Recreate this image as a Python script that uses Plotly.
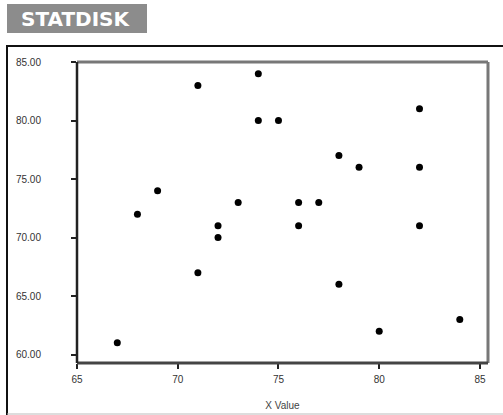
import plotly.graph_objects as go

x_vals = [67, 68, 69, 71, 71, 72, 72, 73, 74, 74, 75, 76, 76, 77, 78, 78, 79, 80, 82, 82, 82, 84]
y_vals = [61, 72, 74, 83, 67, 71, 70, 73, 84, 80, 80, 73, 71, 73, 77, 66, 76, 62, 81, 76, 71, 63]
x_ticks = [65, 70, 75, 80, 85]
y_ticks = [60, 65, 70, 75, 80, 85]
y_tick_labels = ["60.00", "65.00", "70.00", "75.00", "80.00", "85.00"]

PW, PH = 411, 301  # plot area size in px (for paper-relative decorations)

def px_x(p):
    return (p - 77) / PW

def px_y(p):
    return (363 - p) / PH

fig = go.Figure()
fig.add_trace(go.Scatter(
    x=x_vals, y=y_vals, mode="markers",
    marker=dict(color="black", size=7, line=dict(width=0)),
    showlegend=False, hoverinfo="skip"))

fig.update_layout(
    width=503, height=415,
    margin=dict(l=77, r=15, t=62, b=52),
    paper_bgcolor="white", plot_bgcolor="white",
    font=dict(family="Liberation Sans, Arial, sans-serif", size=10, color="#333"),
    xaxis=dict(range=[65, 85.4], tickvals=x_ticks, ticktext=[str(v) for v in x_ticks],
               showgrid=False, zeroline=False, showline=False, automargin=False,
               ticks="outside", ticklen=5, tickwidth=2, tickcolor="#222",
               ticklabelstandoff=2,
               title=dict(text="X Value", font=dict(size=10, color="#444"), standoff=17)),
    yaxis=dict(range=[59.28, 85], tickvals=y_ticks, ticktext=y_tick_labels,
               showgrid=False, zeroline=False, showline=False, automargin=False,
               ticks="outside", ticklen=5, tickwidth=2, tickcolor="#222",
               ticklabelstandoff=28),
    shapes=[
        # outer frame: top, left (black), bottom (light gray)
        dict(type="line", xref="paper", yref="paper", x0=px_x(6), x1=px_x(503),
             y0=px_y(46), y1=px_y(46), line=dict(color="#111", width=2)),
        dict(type="line", xref="paper", yref="paper", x0=px_x(7), x1=px_x(7),
             y0=px_y(45), y1=px_y(415), line=dict(color="#111", width=2)),
        dict(type="line", xref="paper", yref="paper", x0=px_x(7), x1=px_x(503),
             y0=px_y(414), y1=px_y(414), line=dict(color="#bbb", width=1)),
        # banner
        dict(type="rect", xref="paper", yref="paper", x0=px_x(7), x1=px_x(147),
             y0=px_y(33), y1=px_y(4), line=dict(width=0), fillcolor="#8c8c8c"),
        # plot box: top/right gray, left/bottom dark
        dict(type="line", xref="paper", yref="paper", x0=0, x1=1, y0=1, y1=1,
             line=dict(color="#777", width=3)),
        dict(type="line", xref="paper", yref="paper", x0=1, x1=1, y0=0, y1=1,
             line=dict(color="#777", width=3)),
        dict(type="line", xref="paper", yref="paper", x0=0, x1=1, y0=0, y1=0,
             line=dict(color="#444", width=3)),
        dict(type="line", xref="paper", yref="paper", x0=0, x1=0, y0=0, y1=1,
             line=dict(color="#222", width=2.5)),
    ],
    annotations=[
        dict(text="<b>STATDISK</b>", xref="paper", yref="paper",
             x=px_x(76), y=px_y(18.5), xanchor="center", yanchor="middle",
             showarrow=False, font=dict(family="DejaVu Sans, sans-serif", size=20, color="white")),
    ],
)

fig.write_html("out.html", config={"displayModeBar": False},
               post_script="document.body.style.margin='0';")
